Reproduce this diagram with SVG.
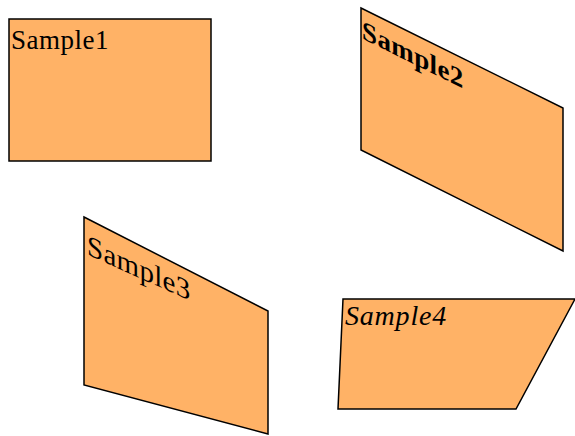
<svg xmlns="http://www.w3.org/2000/svg" width="575" height="436" viewBox="0 0 575 436">
<style>
.shape{fill:#FFB266;stroke:#000;stroke-width:1.5;stroke-linejoin:miter}
.lbl{font-family:"Liberation Serif","Times New Roman",serif;font-size:27px;fill:#000}
</style>
<rect width="575" height="436" fill="#fff"/>
<g id="sample1">
<rect class="shape" x="9" y="19" width="202" height="142"/>
<text class="lbl" x="11" y="49" letter-spacing="0.5">Sample1</text>
</g>
<g id="sample2">
<polygon class="shape" points="361,8 563,108 563,251 361,150"/>
<text class="lbl" font-weight="bold" transform="matrix(1,0.495,0,1,361,8)" x="1" y="30" letter-spacing="0.4">Sample2</text>
</g>
<g id="sample3">
<polygon class="shape" points="84,217 268,311 268,434 84,385"/>
<text class="lbl" transform="matrix(1,0.45,0,1,84,217)" x="3" y="36" style="font-size:29px" letter-spacing="0.3">Sample3</text>
</g>
<g id="sample4">
<polygon class="shape" points="343,299 575,299 516,409 338,409"/>
<text class="lbl" font-style="italic" x="345" y="325" style="font-size:28px" letter-spacing="0.8">Sample4</text>
</g>
<g id="connectors"></g>
</svg>
